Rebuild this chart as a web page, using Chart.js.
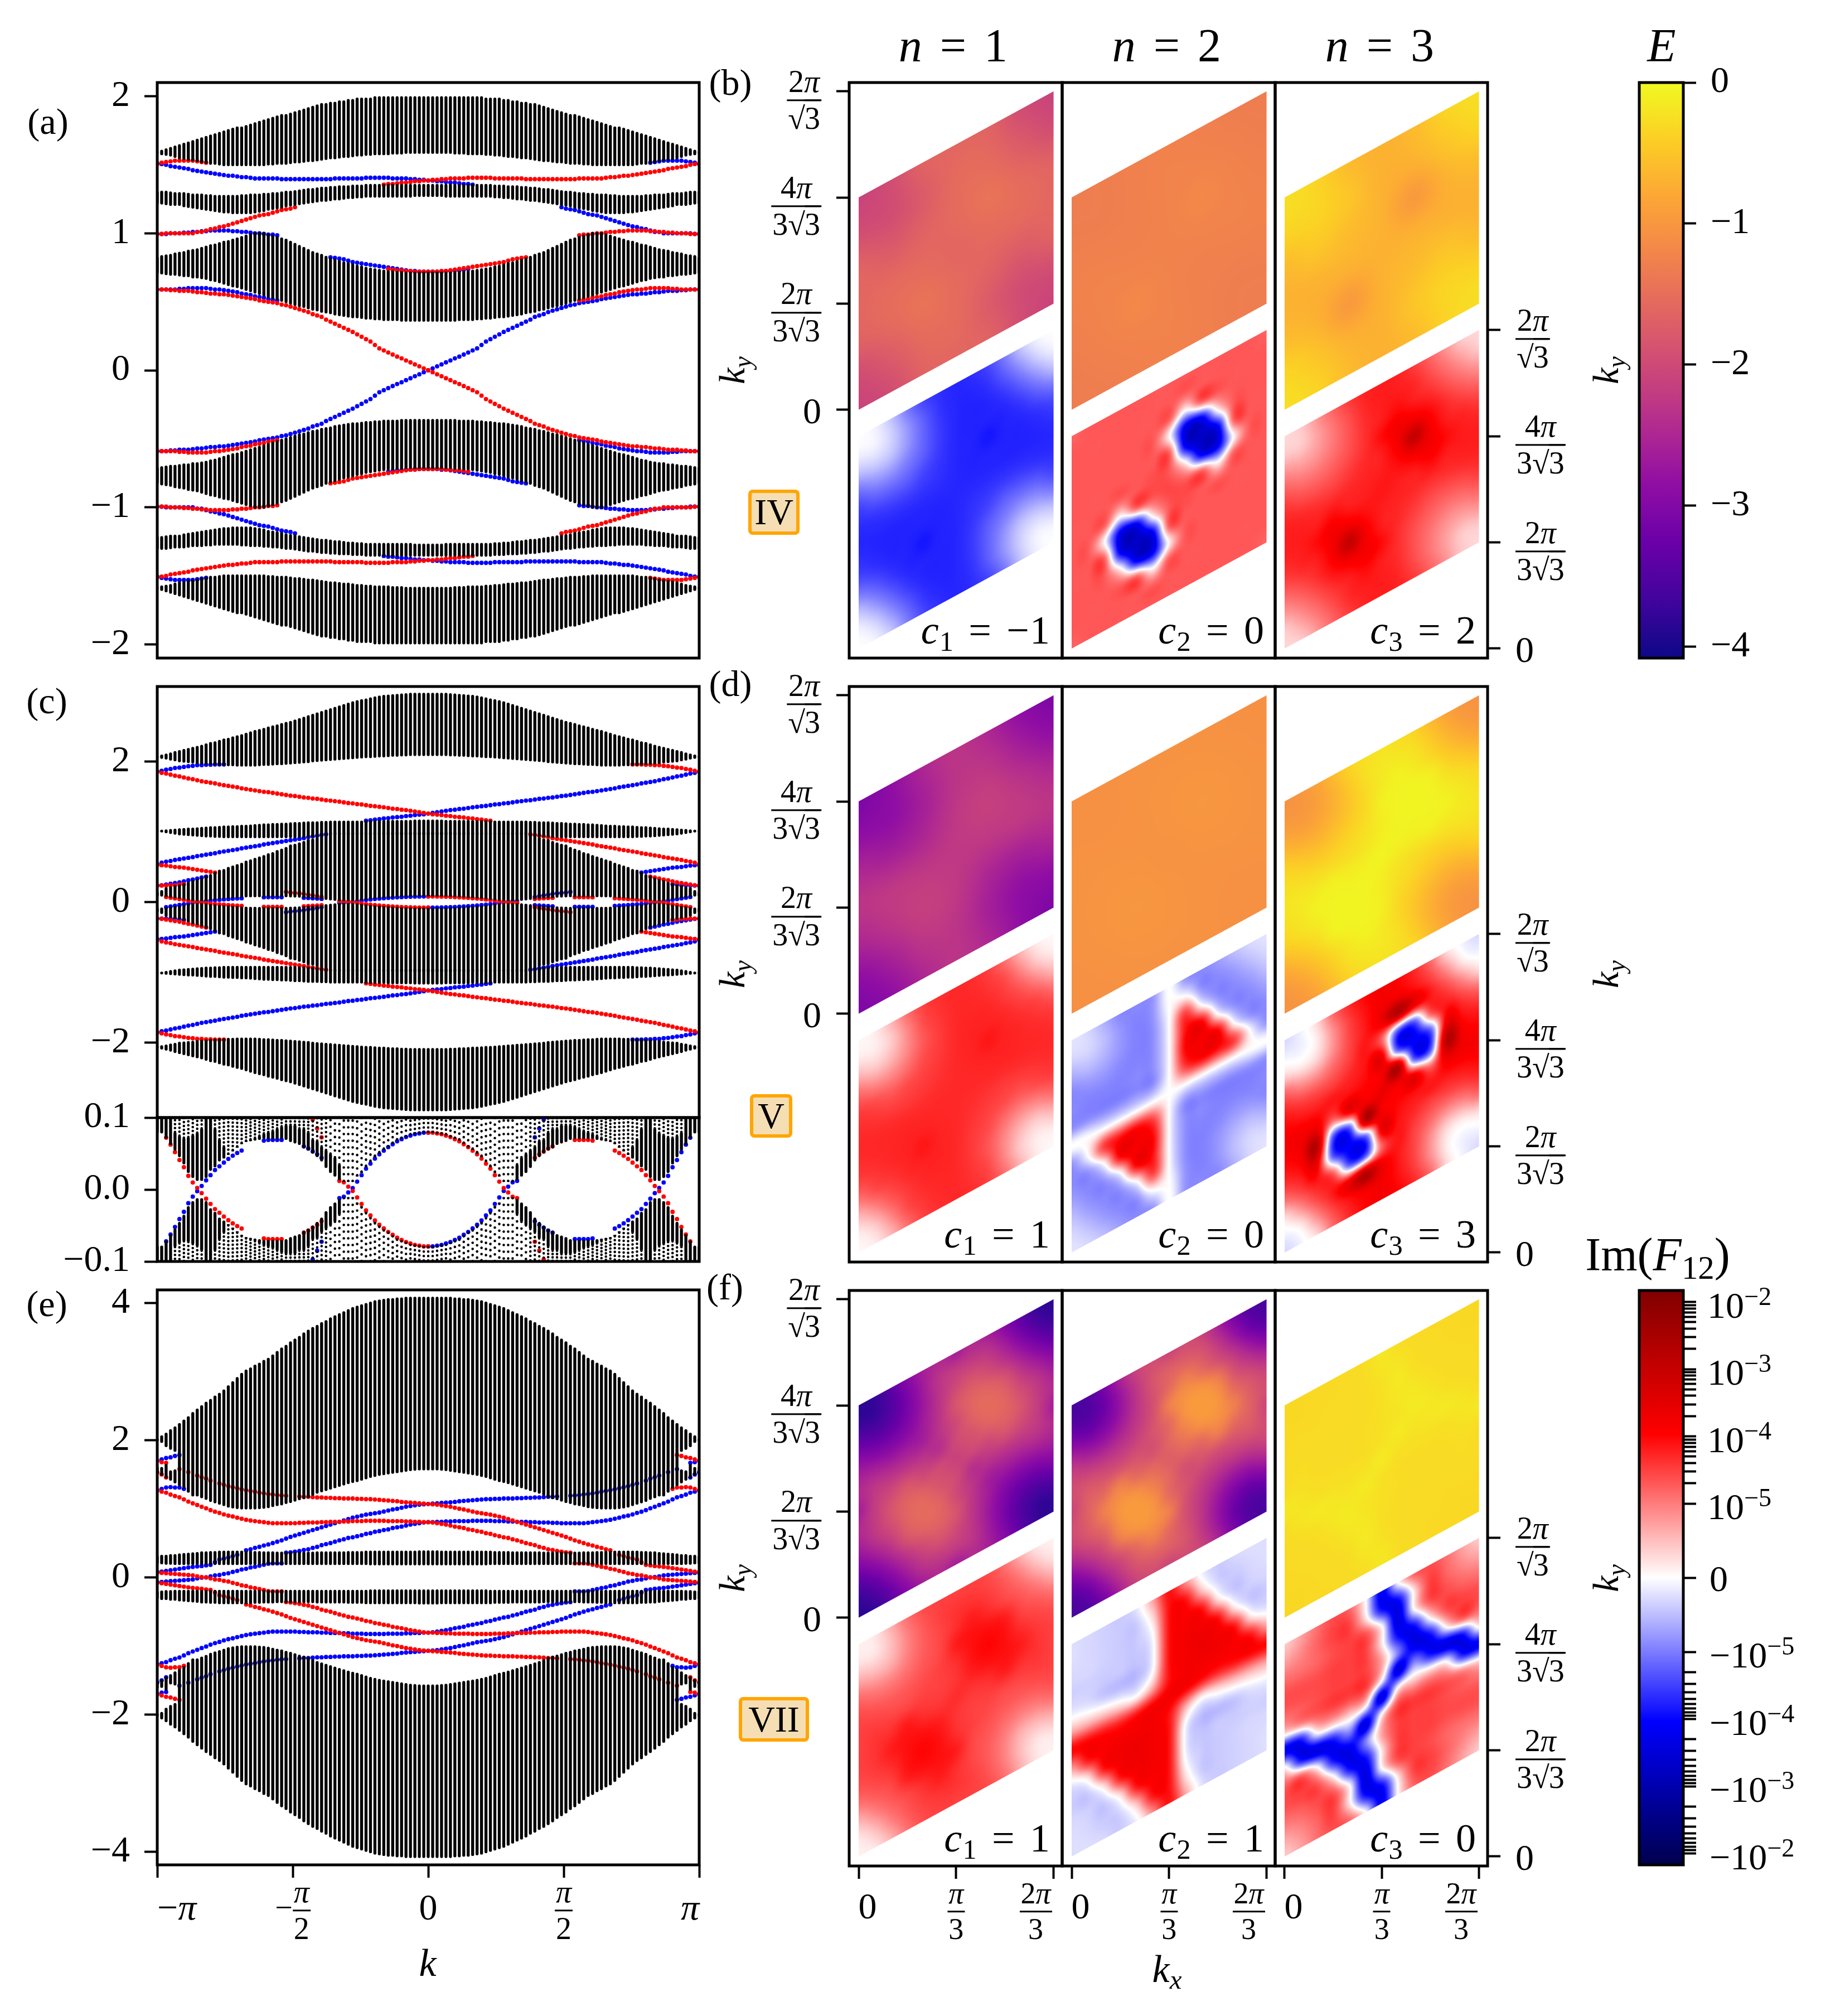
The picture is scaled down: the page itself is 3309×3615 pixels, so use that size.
<!DOCTYPE html>
<html><head><meta charset="utf-8">
<style>
html,body{margin:0;padding:0;background:#fff}
body{position:relative;width:3309px;height:3615px;overflow:hidden;font-family:"Liberation Serif",serif;color:#000}
canvas{position:absolute}
.t{position:absolute;white-space:nowrap;line-height:1}
.t sub{font-size:.7em;line-height:0;vertical-align:-.25em}
.t sup{font-size:.7em;line-height:0;vertical-align:.5em}
.w{word-spacing:.1em;letter-spacing:.015em}
.fr{display:inline-flex;flex-direction:column;align-items:center;vertical-align:middle}
.fr>span:first-child{padding:0 2px 5px;line-height:.95}
.fr>span:last-child{border-top:3.5px solid #000;padding:5px 2px 0;line-height:.95;align-self:stretch;text-align:center}
.rt{border-top:3px solid #000;margin-left:-1px}
.bd{position:absolute;box-sizing:border-box;background:#f5deb3;border:6px solid #ffa500;border-radius:8px;display:flex;align-items:center;justify-content:center;font-size:66px}
</style>
<script src="https://cdn.jsdelivr.net/npm/chart.js@4"></script>
</head><body>
<script>
// ---------- band edges (index 0..61 of half the k axis) ----------
const aU1=[1.60,1.61,1.62,1.63,1.64,1.65,1.66,1.67,1.68,1.69,1.70,1.71,1.72,1.73,1.74,1.75,1.76,1.77,1.78,1.78,1.79,1.80,1.81,1.82,1.83,1.84,1.85,1.86,1.87,1.87,1.88,1.89,1.90,1.91,1.92,1.93,1.94,1.95,1.95,1.96,1.96,1.97,1.97,1.98,1.98,1.99,1.99,1.99,1.99,2,2,2,2,2,2,2,2,2,2,2,2,2];
const aL1=[1.58,1.57,1.565,1.56,1.55,1.54,1.535,1.53,1.525,1.52,1.51,1.505,1.50,1.50,1.495,1.49,1.49,1.49,1.49,1.49,1.49,1.49,1.49,1.49,1.49,1.495,1.495,1.50,1.50,1.50,1.505,1.51,1.51,1.515,1.52,1.52,1.525,1.53,1.535,1.54,1.54,1.545,1.55,1.55,1.555,1.56,1.56,1.565,1.565,1.57,1.57,1.57,1.57,1.575,1.575,1.575,1.58,1.58,1.58,1.58,1.58,1.58];
const aU2=[1.31,1.31,1.31,1.305,1.30,1.30,1.30,1.295,1.29,1.29,1.29,1.285,1.285,1.28,1.28,1.28,1.28,1.28,1.28,1.285,1.285,1.29,1.29,1.29,1.295,1.295,1.30,1.30,1.305,1.31,1.31,1.315,1.32,1.325,1.33,1.33,1.335,1.34,1.34,1.345,1.345,1.35,1.35,1.35,1.355,1.355,1.355,1.36,1.36,1.36,1.36,1.36,1.36,1.36,1.36,1.36,1.36,1.36,1.36,1.36,1.36,1.36];
const aL2=[1.21,1.21,1.205,1.20,1.20,1.20,1.19,1.185,1.18,1.175,1.17,1.165,1.16,1.155,1.15,1.145,1.145,1.14,1.14,1.14,1.14,1.14,1.145,1.15,1.155,1.165,1.17,1.175,1.18,1.19,1.195,1.20,1.205,1.21,1.215,1.22,1.225,1.23,1.23,1.235,1.24,1.24,1.245,1.25,1.25,1.255,1.255,1.26,1.26,1.26,1.26,1.26,1.26,1.26,1.26,1.26,1.26,1.26,1.265,1.265,1.265,1.265];
const aU3=[.83,.84,.845,.85,.86,.865,.87,.88,.885,.89,.90,.91,.92,.925,.935,.945,.95,.96,.97,.98,.99,1,1.01,1.01,1.01,1,.99,.98,.97,.96,.945,.93,.915,.90,.885,.87,.86,.85,.835,.825,.815,.805,.795,.79,.78,.77,.765,.755,.75,.745,.74,.735,.73,.73,.725,.725,.72,.72,.72,.72,.72,.72];
const aL3=[.705,.70,.695,.69,.69,.685,.68,.68,.67,.67,.665,.66,.65,.645,.635,.625,.615,.605,.60,.59,.58,.57,.56,.55,.54,.53,.52,.51,.50,.49,.48,.47,.46,.455,.445,.435,.43,.42,.415,.41,.40,.395,.39,.385,.38,.38,.375,.37,.37,.365,.365,.36,.36,.36,.36,.355,.355,.355,.355,.355,.355,.355];

const cU1=[2.08,2.10,2.115,2.13,2.15,2.165,2.18,2.195,2.21,2.225,2.24,2.26,2.28,2.29,2.31,2.33,2.34,2.36,2.375,2.39,2.41,2.43,2.45,2.465,2.48,2.50,2.515,2.53,2.55,2.565,2.58,2.60,2.62,2.64,2.66,2.68,2.70,2.72,2.74,2.76,2.78,2.80,2.82,2.84,2.86,2.875,2.89,2.90,2.915,2.93,2.94,2.95,2.955,2.96,2.965,2.97,2.975,2.98,2.98,2.98,2.98,2.98];
const cL1=[2.05,2.04,2.03,2.015,2.005,1.99,1.985,1.98,1.975,1.965,1.96,1.955,1.95,1.945,1.94,1.94,1.935,1.935,1.93,1.93,1.93,1.93,1.93,1.935,1.94,1.94,1.945,1.95,1.95,1.955,1.96,1.965,1.97,1.975,1.98,1.99,1.995,2,2.005,2.01,2.015,2.02,2.025,2.03,2.035,2.04,2.045,2.05,2.05,2.055,2.06,2.06,2.065,2.07,2.07,2.075,2.075,2.08,2.08,2.08,2.08,2.08];
const cU2=[1.02,1.03,1.035,1.04,1.045,1.05,1.055,1.06,1.06,1.065,1.07,1.075,1.08,1.08,1.085,1.09,1.09,1.095,1.095,1.10,1.10,1.105,1.11,1.115,1.12,1.12,1.125,1.125,1.13,1.13,1.135,1.14,1.14,1.145,1.15,1.15,1.15,1.155,1.155,1.16,1.16,1.16,1.16,1.16,1.16,1.16,1.16,1.165,1.165,1.165,1.165,1.165,1.17,1.17,1.17,1.17,1.17,1.17,1.175,1.175,1.175,1.175];
const cL2=[1.0,.99,.98,.97,.96,.95,.945,.94,.935,.93,.925,.92,.92,.915,.915,.91,.91,.91,.91,.91,.91,.91,.91,.91,.91,.91,.91,.91,.91,.91,.91,.91,.915,.915,.92,.92,.925,.93,.94,.95,.95,.95,.95,.95,.95,.95,.95,.95,.95,.95,.95,.95,.95,.95,.95,.95,.95,.95,.95,.95,.95,.95];
const cU3=[.15,.17,.21,.225,.24,.25,.27,.29,.315,.33,.35,.38,.40,.43,.46,.47,.50,.52,.54,.56,.59,.607,.63,.65,.67,.695,.71,.74,.76,.785,.82,.83,.85,.87,.90,.905,.925,.94,.965,1,1,1,1,1,1,1,1,1,1,1,1,1,1,1,1,1,1,1,1,1,1,1];
const cGap=[.078,.078,.0705,.062,.054,.045,.035,.023,.016,.012,.012,.016,.026,.031,.039,.043,.048,.053,.058,.063,.066,.067,.068,.069,.07,.07,.07,.07,.07,.069,.066,.064,.062,.057,.054,.05,.045,.039,.03,.023,.018,.013,.011,.011,.011,.018,.023,.031,.039,.045,.05,.055,.059,.064,.068,.071,.073,.076,.077,.078,.079,.079];
const cSolid=[.1,.1,.1,.1,.08,.075,.072,.073,.076,.079,.085,.1,.1,.085,.07,.06,.05,.055,.06,.065,.068,.07,.072,.075,.078,.08,.082,.085,.088,.09,.09,.09,.085,.085,.08,.07,.068,.06,.055,.05,.045,.035,.012,.012,.012,.02,.025,.033,.04,.047,.052,.057,.06,.065,.07,.072,.074,.077,.078,.079,.08,.08];
const cDot=[7,7,7,7,7,7,7,7,7,7,7,7,7,7,7,7,7,7,7,7,6,6,6,6,6,6,6,6,6,6,6,6,6,6,6,8,8,8,8,12,12,12,12,12,12,12,12,11,11,11,11,11,11,10,10,10,10,8,8,8,8,8];

const eU1=[2.03,2.07,2.11,2.16,2.20,2.25,2.30,2.35,2.41,2.46,2.51,2.56,2.60,2.65,2.69,2.74,2.80,2.86,2.92,2.98,3.03,3.06,3.10,3.13,3.17,3.20,3.25,3.30,3.35,3.39,3.44,3.48,3.52,3.57,3.61,3.65,3.68,3.72,3.75,3.79,3.82,3.85,3.88,3.91,3.94,3.96,3.98,4.00,4.02,4.04,4.05,4.06,4.07,4.07,4.08,4.08,4.09,4.09,4.09,4.09,4.09,4.09];
const eL1=[1.98,1.96,1.90,1.86,1.83,1.33,1.29,1.235,1.18,1.18,1.154,1.13,1.10,1.08,1.06,1.04,1.018,1.005,.996,.99,.99,.99,.99,.995,1.0,1.01,1.026,1.04,1.05,1.07,1.085,1.105,1.125,1.14,1.154,1.19,1.22,1.24,1.26,1.28,1.30,1.32,1.34,1.36,1.376,1.39,1.41,1.43,1.45,1.465,1.48,1.49,1.50,1.51,1.52,1.53,1.54,1.55,1.555,1.56,1.56,1.56];
const ePieceLo=[1.50,1.48,1.44,1.41,1.37];
const ePieceHi=[1.62,1.61,1.655,1.56,1.575];
const eU4=[.32,.33,.33,.34,.34,.35,.355,.36,.365,.37,.38,.38,.385,.385,.39,.39,.39,.39,.39,.39,.39,.39,.385,.385,.38,.38,.38,.375,.375,.375,.375,.375,.375,.375,.375,.375,.38,.38,.38,.38,.38,.38,.38,.385,.385,.385,.385,.39,.39,.39,.39,.39,.39,.39,.39,.39,.39,.39,.39,.395,.395,.395];
const eL4=[.19,.19,.185,.185,.18,.18,.18,.18,.18,.18,.18,.18,.18,.18,.18,.18,.18,.18,.18,.18,.18,.18,.18,.18,.18,.18,.18,.18,.18,.18,.18,.18,.18,.18,.18,.18,.18,.18,.18,.18,.18,.18,.18,.18,.18,.18,.18,.18,.175,.175,.175,.175,.175,.175,.175,.175,.175,.175,.175,.175,.175,.175];

// ---------- edge states: [first k index, energies] ----------
const aEdge=[
[0,[1.505,1.515,1.52,1.525,1.53,1.53,1.53,1.53,1.53,1.525,1.52,1.515]],
[51,[1.355,1.36,1.36,1.365,1.37,1.37,1.375,1.38,1.38,1.385,1.385,1.39,1.39,1.395,1.395,1.40,1.40,1.40,1.40,1.405,1.405,1.405,1.405,1.405,1.405,1.40,1.40,1.40,1.40,1.40,1.40,1.40,1.395,1.395,1.395,1.395,1.395,1.395,1.395,1.395,1.395,1.395,1.395,1.395,1.40,1.40,1.40,1.40,1.40,1.40,1.405,1.41,1.41,1.415,1.42,1.42,1.425,1.43,1.435,1.44,1.445,1.45,1.455,1.46,1.47,1.475,1.48,1.485,1.49,1.50,1.505,1.51]],
[0,[.995,.995,1,1,1,1,1,1,1,1.01,1.01,1.02,1.03,1.035,1.045,1.05,1.06,1.07,1.08,1.09,1.10,1.11,1.12,1.13,1.135,1.14,1.15,1.16,1.17,1.175,1.18,1.19]],
[95,[.985,.99,.99,.995,1,1,1.005,1.01,1.01,1.015,1.015,1.02,1.02,1.02,1.02,1.02,1.015,1.015,1.01,1.01,1.005,1.005,1,1,1,.995,.995,.995]],
[52,[.74,.735,.73,.73,.725,.725,.72,.72,.72,.72,.72,.72,.725,.725,.73,.735,.74,.745,.75,.755,.76,.765,.77,.775,.78,.785,.79,.80,.81,.815,.82,.825]],
[0,[.59,.59,.59,.585,.585,.58,.58,.58,.575,.57,.57,.565,.56,.56,.555,.555,.55,.545,.54,.535,.53,.525,.52,.51,.505,.50,.495,.49,.48,.475,.465,.455,.445,.435,.425,.41,.40,.39,.37,.355,.34,.325,.31,.295,.28,.262,.245,.227,.21,.185,.16,.145,.13,.115,.10,.087,.072,.058,.043,.029,.014,0]],
[95,[.51,.515,.52,.53,.535,.54,.55,.555,.56,.57,.575,.58,.585,.59,.59,.595,.60,.60,.60,.60,.60,.595,.595,.59,.59,.59,.59,.59]]
];
const cEdge=[
[0,[1.857,1.84,1.83,1.815,1.80,1.79,1.775,1.76,1.75,1.735,1.72,1.71,1.70,1.69,1.675,1.665,1.655,1.645,1.635,1.62,1.61,1.60,1.59,1.58,1.57,1.565,1.555,1.545,1.535,1.525,1.516,1.51,1.50,1.49,1.485,1.475,1.47,1.46,1.45,1.445,1.437,1.43,1.42,1.41,1.405,1.395,1.39,1.38,1.37,1.365,1.357,1.35,1.34,1.33,1.325,1.315,1.31,1.30,1.29,1.28,1.27,1.26,1.25,1.245,1.24,1.23,1.225,1.215,1.21,1.205,1.195,1.19,1.18,1.175,1.165,1.158]],
[107,[1.96,1.96,1.96,1.955,1.955,1.95,1.95,1.94,1.935,1.925,1.915,1.91,1.895,1.885,1.87,1.857]],
[84,[.965,.955,.945,.935,.925,.91,.90,.89,.88,.87,.86,.85,.84,.83,.82,.805,.795,.785,.775,.765,.75,.74,.73,.72,.71,.695,.685,.675,.665,.655,.64,.63,.62,.61,.60,.585,.575,.56,.54]],
[0,[.527,.525,.52,.51,.50,.495,.49,.48,.47,.46,.45,.44,.43,.42]],
[111,[.363,.35,.335,.32,.31,.295,.28,.27,.26,.25,.24,.235]],
[0,[.235,.235,.235,.24,.24,.25,.255]],
[2,[.072,.0625,.052,.041,.031,.019,.0098,.0023,-.005,-.0128,-.02,-.0272,-.0323,-.0375,-.0426,-.047,-.0508,-.0542,null,null,null,null,-.068,-.069,-.069,-.069,-.069,null,null,null,null,-.06,-.057,-.053,-.049,-.044]],
[29,[.145,.135,.13,.125,.115,.105,.097,.085,.0725,null,null,null,.012,.010,.004,-.002,-.011,-.02,-.029,-.036,-.043,-.049,-.054,-.059,-.063,-.067,-.07,-.073,-.075,-.077,-.078,-.079,-.079]]
];
const eEdge=[
[0,[1.267,1.25,1.235,1.207,1.185,1.167,1.137,1.105,1.08,1.055,1.03,1.007,.98,.958,.94,.918,.90,.888,.87,.855,.84,.829,.82,.812,.805,.796,.79,.79,.79,.79,.79,.79,.795,.795,.80,.80,.80,.805,.805,.81,.81,.81,.815,.815,.82,.82,.82,.825,.825,.825,.825,.825,.82,.82,.82,.82,.815,.815,.81,.81,.805,.805]],
[62,[.80,.79,.78,.77,.755,.74,.73,.72,.70,.69,.675,.665,.645,.635,.615,.60,.585,.575,.555,.54,.52,.50,.485,.47,.445,.43,.41,.40,.385,.375,.365,.36,.205,.205,.205,.20,.185,.17,.155,.145,.125,.115,.095,.08,.06,.05,.035,.03,.015,0,-.005,-.015,-.03,-.035,-.04,-.045,-.05,-.055,-.06,-.066,-.07]],
[5,[1.578,null,1.535,null,1.485,1.46,1.44,1.41,null,1.37,1.35,1.33,1.315,1.30,1.285,1.27,1.26,1.25,1.235,1.225,1.215,1.21,1.20,1.195,1.19,null,null,1.18,1.175,1.175,1.17,1.165,1.165,1.16,1.16,1.155,1.155,1.15,1.15,1.15,1.145,1.145,1.14,1.14,1.135,1.13,1.125,1.12,1.115,1.11,1.10,1.095,1.09,1.085,1.08,1.075,1.07]],
[62,[1.065,1.06,1.05,1.04,1.03,1.015,1.0,.99,.975,.96,.945,.935,.925,.915,.90,.885,.87,.85,.83,.81,.79,.77,.75,.73,.71,.69,.67,.65,.63,.61,.59,.565,.54,.52,.50,.48,.465,.445,.43,.41,.395,null,.33,.31,.29,.275,.26,.22,.183,.175,.165,.16,.153,.145,.135,.125,.115,.105,.095,.085,.08]],
[0,[1.70,1.68,1.67]],
[0,[1.53,1.50,1.456]],
[117,[1.785,1.77,1.75,1.74,1.72,1.70]],
[116,[1.29,1.31,1.31,1.316,1.31,1.29,1.27]]
];

// ---------- Brillouin-zone maps: half of each grid, the other half is its point reflection ----------
const E_IV_1=[[-2.1,-1.95,-1.65,-1.6,-1.65,-1.95,-2.1],[-1.95,-1.75,-1.55,-1.55,-1.75,-1.95,-1.95],[-1.65,-1.55,-1.45,-1.55,-1.65,-1.75,-1.65],[-1.6,-1.55,-1.55,-1.6,-1.55,-1.55,-1.6]];
const E_IV_2=[[-1.32,-1.3,-1.27,-1.25,-1.27,-1.3,-1.32],[-1.3,-1.27,-1.24,-1.24,-1.27,-1.3,-1.3],[-1.27,-1.24,-1.18,-1.24,-1.27,-1.27,-1.27],[-1.25,-1.24,-1.24,-1.25,-1.24,-1.24,-1.25]];
const E_IV_3=[[-.25,-.35,-.6,-.7,-.6,-.35,-.25],[-.35,-.5,-.7,-.7,-.5,-.35,-.35],[-.6,-.7,-.95,-.7,-.6,-.5,-.6],[-.7,-.7,-.7,-.7,-.7,-.7,-.7]];
const E_V_1=[[-3.05,-2.85,-2.5,-2.3,-2.5,-2.85,-3.05],[-2.85,-2.6,-2.3,-2.3,-2.6,-2.85,-2.85],[-2.5,-2.3,-2.15,-2.25,-2.5,-2.6,-2.5],[-2.3,-2.25,-2.25,-2.25,-2.25,-2.25,-2.3]];
const E_V_2=[[-1.08,-1.07,-1.05,-1.05,-1.05,-1.07,-1.08],[-1.07,-1.05,-1.03,-1.03,-1.05,-1.07,-1.07],[-1.05,-1.03,-1,-1.03,-1.05,-1.05,-1.05],[-1.05,-1.03,-1.03,-1.05,-1.03,-1.03,-1.05]];
const E_V_3=[[-1.05,-1,-.85,-.6,-.35,-.25,-.2,-.25,-.35,-.6,-.85,-1,-1.05],[-1,-.9,-.7,-.45,-.25,-.17,-.17,-.25,-.45,-.7,-.9,-1,-1],[-.85,-.7,-.5,-.3,-.15,-.08,-.15,-.3,-.5,-.7,-.85,-.9,-.85],[-.6,-.45,-.3,-.1,-.06,-.06,-.1,-.3,-.45,-.6,-.7,-.7,-.6],[-.35,-.25,-.15,-.06,-.05,-.06,-.12,-.25,-.35,-.45,-.5,-.45,-.35],[-.25,-.17,-.08,-.06,-.06,-.06,-.1,-.2,-.27,-.3,-.3,-.27,-.25],[-.2,-.17,-.15,-.1,-.12,-.1,-.06,-.1,-.12,-.1,-.15,-.17,-.2]];
const E_VII_1=[[-3.85,-3.75,-3.4,-2.95,-2.6,-2.45,-2.6,-2.45,-2.6,-2.95,-3.4,-3.75,-3.85],[-3.75,-3.5,-3.1,-2.65,-2.3,-2.2,-2.2,-2.3,-2.65,-3.1,-3.5,-3.75,-3.75],[-3.4,-3.1,-2.7,-2.3,-2,-1.85,-2,-2.3,-2.7,-3.1,-3.4,-3.5,-3.4],[-2.95,-2.65,-2.3,-1.85,-1.65,-1.65,-1.85,-2.3,-2.65,-2.95,-3.1,-3.1,-2.95],[-2.6,-2.3,-2,-1.65,-1.55,-1.65,-2,-2.3,-2.6,-2.65,-2.7,-2.65,-2.6],[-2.45,-2.2,-1.85,-1.65,-1.65,-1.85,-2,-2.35,-2.3,-2.3,-2.3,-2.3,-2.45],[-2.6,-2.2,-2,-1.85,-2,-2,-2.1,-2,-2,-1.85,-2,-2.2,-2.6]];
const E_VII_2=[[-3.6,-3.5,-3.1,-2.55,-2.1,-1.95,-2.05,-1.95,-2.1,-2.55,-3.1,-3.5,-3.6],[-3.5,-3.25,-2.75,-2.25,-1.85,-1.7,-1.7,-1.85,-2.25,-2.75,-3.25,-3.5,-3.5],[-3.1,-2.75,-2.3,-1.9,-1.55,-1.3,-1.55,-1.9,-2.3,-2.75,-3.1,-3.25,-3.1],[-2.55,-2.25,-1.9,-1.3,-1.05,-1.05,-1.3,-1.9,-2.25,-2.55,-2.75,-2.75,-2.55],[-2.1,-1.85,-1.55,-1.05,-.95,-1.05,-1.55,-1.85,-2.1,-2.25,-2.3,-2.25,-2.1],[-1.95,-1.7,-1.3,-1.05,-1.05,-1.3,-1.6,-1.9,-1.85,-1.9,-1.9,-1.85,-1.95],[-2.05,-1.7,-1.55,-1.3,-1.55,-1.6,-1.7,-1.6,-1.55,-1.3,-1.55,-1.7,-2.05]];
const E_VII_3=[[-.32,-.31,-.3,-.3,-.29,-.26,-.17,-.26,-.29,-.3,-.3,-.31,-.32],[-.31,-.31,-.3,-.29,-.27,-.2,-.2,-.27,-.29,-.3,-.3,-.31,-.31],[-.3,-.3,-.29,-.28,-.24,-.15,-.24,-.28,-.29,-.29,-.3,-.3,-.3],[-.3,-.29,-.28,-.24,-.17,-.17,-.24,-.28,-.29,-.29,-.29,-.29,-.3],[-.29,-.27,-.24,-.17,-.14,-.2,-.24,-.27,-.28,-.28,-.29,-.27,-.29],[-.26,-.2,-.15,-.17,-.2,-.15,-.23,-.27,-.28,-.28,-.27,-.25,-.26],[-.17,-.2,-.24,-.24,-.24,-.23,-.15,-.23,-.24,-.24,-.24,-.2,-.17]];
// Im(F12) in decades: 0 = 0, +-1 = +-1e-5, +-2 = +-1e-4, +-3 = +-1e-3, +-4 = +-1e-2
const F_IV_1=[[0,-.1,-.45,-1,-1.45,-1.65,-1.72,-1.65,-1.45,-1,-.45,-.1,0],[-.1,-.35,-.8,-1.25,-1.6,-1.72,-1.72,-1.6,-1.25,-.8,-.35,-.1,-.1],[-.45,-.8,-1.2,-1.55,-1.72,-1.75,-1.72,-1.55,-1.2,-.8,-.45,-.35,-.45],[-1,-1.25,-1.55,-1.72,-1.75,-1.75,-1.72,-1.55,-1.25,-1,-.8,-.8,-1],[-1.45,-1.6,-1.72,-1.75,-1.85,-1.75,-1.72,-1.6,-1.45,-1.25,-1.2,-1.25,-1.45],[-1.65,-1.72,-1.75,-1.75,-1.75,-1.75,-1.72,-1.65,-1.6,-1.55,-1.55,-1.6,-1.65],[-1.72,-1.72,-1.72,-1.72,-1.72,-1.72,-1.72,-1.72,-1.72,-1.72,-1.72,-1.72,-1.72]];
const F_IV_2=[[1.2,1.3,1.3,1.3,1.3,1.3,1.3,1.3,1.3,1.3,1.3,1.3,1.2],[1.3,1.3,1.3,1.3,1.3,1.3,1.3,1.3,1.3,1.3,1.3,1.3,1.3],[1.3,1.3,1.3,1.3,1.3,.1,1.3,1.3,1.3,1.3,1.3,1.3,1.3],[1.3,1.3,1.3,.1,-2.2,-2.2,.1,1.3,1.3,1.3,1.3,1.3,1.3],[1.3,1.3,1.3,-2.2,-2.7,-2.2,1.3,1.3,1.3,1.3,1.3,1.3,1.3],[1.3,1.3,.1,-2.2,-2.2,.1,1.3,1.4,1.3,1.3,1.3,1.3,1.3],[1.3,1.3,1.3,.1,1.3,1.3,1.45,1.3,1.3,.1,1.3,1.3,1.3]];
const F_IV_3=[[.3,.4,.8,1.2,1.55,1.75,1.8,1.75,1.55,1.2,.8,.4,.3],[.4,.7,1.05,1.4,1.7,1.8,1.8,1.7,1.4,1.05,.7,.4,.4],[.8,1.05,1.35,1.65,1.8,1.95,1.8,1.65,1.35,1.05,.8,.7,.8],[1.2,1.4,1.65,1.95,2.2,2.2,1.95,1.65,1.4,1.2,1.05,1.05,1.2],[1.55,1.7,1.8,2.2,3,2.2,1.8,1.7,1.55,1.4,1.35,1.4,1.55],[1.75,1.8,1.95,2.2,2.2,1.95,1.8,1.75,1.7,1.65,1.65,1.7,1.75],[1.8,1.8,1.8,1.95,1.8,1.8,1.85,1.8,1.8,1.95,1.8,1.8,1.8]];
const F_V_1=[[.05,.15,.55,1.1,1.5,1.65,1.7,1.65,1.5,1.1,.55,.15,.05],[.15,.4,.9,1.4,1.6,1.7,1.7,1.6,1.4,.9,.4,.15,.15],[.55,.9,1.3,1.55,1.7,1.72,1.7,1.55,1.3,.9,.55,.4,.55],[1.1,1.4,1.55,1.7,1.75,1.75,1.7,1.55,1.4,1.1,.9,.9,1.1],[1.5,1.6,1.7,1.75,1.85,1.75,1.7,1.6,1.5,1.4,1.3,1.4,1.5],[1.65,1.7,1.72,1.75,1.75,1.72,1.7,1.65,1.6,1.55,1.55,1.6,1.65],[1.7,1.7,1.7,1.7,1.7,1.7,1.7,1.7,1.7,1.7,1.7,1.7,1.7]];
const F_V_2=[[-.2,-.3,-.5,-.75,-.9,-.8,0,-.8,-.9,-.9,-.6,-.3,-.2],[-.3,-.5,-.75,-.9,-.85,0,0,-.8,-.95,-.8,-.5,-.3,-.3],[-.5,-.75,-.9,-.85,0,1.5,0,-.85,-.95,-.8,-.6,-.5,-.6],[-.75,-.9,-.85,0,2.1,1.9,0,-.85,-.95,-.9,-.8,-.8,-.9],[-.9,-.85,0,2.1,2.15,2,0,-.85,-.9,-.95,-.95,-.95,-.9],[-.8,0,1.5,1.9,2,1.5,0,-.85,-.85,-.9,-.9,-.85,-.85],[0,0,0,0,0,0,0,0,0,0,0,0,0]];
const F_V_3=[[-.3,-.1,.3,1.15,1.7,2,2.2,2,1.7,1.15,.3,-.1,-.3],[-.1,.15,.85,1.5,1.9,2.2,2.2,1.9,1.5,.85,.15,-.1,-.1],[.3,.85,1.45,1.85,2.3,3.2,2.3,1.85,1.45,.85,.3,.15,.3],[1.15,1.5,1.85,1.2,-1.4,-1.4,1.2,1.85,1.5,1.15,.85,.85,1.15],[1.7,1.9,2.3,-1.4,-2.1,-1.4,2.3,1.9,1.7,1.5,1.45,1.5,1.7],[2,2.2,3.2,-1.4,-1.4,3.2,2.2,2,1.9,1.85,1.85,1.9,2],[2.2,2.2,2.3,1.2,2.3,2.2,2.3,2.2,2.3,1.2,2.3,2.2,2.2]];
const F_VII_1=[[.1,.2,.6,1.1,1.4,1.5,1.5,1.5,1.4,1.1,.6,.2,.1],[.2,.5,.95,1.3,1.5,1.6,1.6,1.5,1.3,.95,.5,.2,.2],[.6,.95,1.25,1.45,1.65,1.8,1.65,1.45,1.25,.95,.6,.5,.6],[1.1,1.3,1.45,1.8,1.9,1.9,1.8,1.45,1.3,1.1,.95,.95,1.1],[1.4,1.5,1.65,1.9,2,1.9,1.65,1.5,1.4,1.3,1.25,1.3,1.4],[1.5,1.6,1.8,1.9,1.9,1.8,1.6,1.5,1.5,1.45,1.45,1.5,1.5],[1.5,1.6,1.65,1.8,1.65,1.6,1.65,1.6,1.65,1.8,1.65,1.6,1.5]];
const F_VII_2=[[-.25,-.25,-.3,-.4,-.1,.9,1.9,.7,-.2,-.4,-.35,-.3,-.25],[-.25,-.3,-.4,-.3,.5,1.9,1.9,.3,-.4,-.4,-.35,-.3,-.25],[-.3,-.35,-.4,.3,1.9,2.1,1.9,0,-.4,-.4,-.35,-.3,-.3],[-.4,-.4,.3,1.9,2.2,2.2,1.9,-.1,-.45,-.4,-.4,-.35,-.35],[-.2,.3,1.9,2.2,2.3,2.2,1.9,0,-.5,-.5,-.4,-.2,-.1],[.8,1.9,2.1,2.2,2.2,2.2,1.9,.7,.1,.3,.5,.6,.7],[2,2,1.9,1.8,1.9,2.1,2.2,2.1,1.9,1.8,1.9,2,2]];
const F_VII_3=[[.4,.7,1.1,1.4,1.2,0,-2.2,0,1.2,1.4,1.1,.7,.4],[.7,.9,1.2,1.5,.2,-2,-2,.2,1.5,1.5,1.2,.9,.7],[1.1,1.2,1.4,1.4,0,-2.4,0,1.4,1.5,1.4,1.2,1.1,1.1],[1.4,1.5,1.4,.1,-2,-2,.2,1.5,1.5,1.5,1.4,1.4,1.4],[1.2,1.3,.1,-2,-2.3,-1,.7,1.5,1.5,1.5,1.4,1.3,1.2],[.1,-2,-2.4,-2,-1,-2.4,.1,1.5,1.5,1.5,1.3,.9,.4],[-2.2,-2,0,.4,.4,.1,-2.4,.1,.4,.4,0,-2,-2.2]];

// ---------- labels ----------
const bandTicksA=[-2,-1,0,1,2], bandTicksC=[-2,0,2], bandTicksInset=[-.1,0,.1], bandTicksE=[-4,-2,0,2,4];
const energyTicks=[-4,-3,-2,-1,0];
const decadeLabels=["10<sup>−2</sup>","10<sup>−3</sup>","10<sup>−4</sup>","10<sup>−5</sup>","0","−10<sup>−5</sup>","−10<sup>−4</sup>","−10<sup>−3</sup>","−10<sup>−2</sup>"];
const decadeValues=[4,3,2,1,0,-1,-2,-3,-4];
const nTitles=["1","2","3"];
const chernIV=["−1","0","2"], chernV=["1","0","3"], chernVII=["1","1","0"];

// ---------- helpers ----------
const PI=Math.PI, H=2*PI/(3*Math.sqrt(3)), X=2*PI/3, K=i=>-PI+i*2*PI/122;
const M=185, FONT='"Liberation Serif"';
const frame={id:'frame',afterDraw(c){const a=c.chartArea,x=c.ctx;x.save();x.lineWidth=5;x.strokeStyle='#000';x.strokeRect(a.left,a.top,a.right-a.left,a.bottom-a.top);x.restore();}};
function mk(b,cfg,extra=[]){
  const cv=document.createElement('canvas');
  cv.width=b.w+2*M;cv.height=b.h+2*M;cv.style.left=(b.x-M)+'px';cv.style.top=(b.y-M)+'px';
  document.body.appendChild(cv);
  cfg.options=Object.assign({responsive:false,maintainAspectRatio:false,animation:false,devicePixelRatio:1,events:[],
    layout:{padding:M},plugins:{legend:{display:false},tooltip:{enabled:false}}},cfg.options);
  cfg.plugins=[...extra,frame];
  const ch=new Chart(cv,cfg);
  ch.px=v=>b.x-M+ch.scales.x.getPixelForValue(v);
  ch.py=(id,v)=>b.y-M+ch.scales[id].getPixelForValue(v);
  return ch;
}
function axis(pos,min,max,vals,fmt,show=true){
  const horiz=pos==='bottom';
  return {type:'linear',position:pos,min,max,display:show,offset:false,
    grid:{display:true,drawOnChartArea:false,drawTicks:true,tickLength:23,tickWidth:4,tickColor:'#000',offset:false},
    border:{display:false},
    ticks:{display:!!fmt,autoSkip:false,maxRotation:0,minRotation:0,padding:26,color:'#000',font:{family:FONT,size:66},callback:fmt||(()=>'')},
    afterBuildTicks:s=>{s.ticks=vals.map(value=>({value}));},
    afterFit:s=>{if(horiz)s.height=0;else s.width=0;s._computeLabelArea=()=>undefined;}};
}
const minus=v=>String(v).replace('-','−');
const BAR=5.3;
function bars(pairs){ // pairs: [upper,lower]; drawn at +E and -E, +k and -k
  const d=[];
  for(const [u,l] of pairs){u.forEach((hi,i)=>{const lo=l[i];
    for(const j of (i===61?[61]:[i,122-i])){d.push({x:K(j),y:[lo,hi]});d.push({x:K(j),y:[-hi,-lo]});}
  });}
  return {type:'bar',data:d,backgroundColor:'#000',barThickness:BAR,grouped:false,borderRadius:2.6,borderSkipped:false,inflateAmount:0,order:1};
}
function edges(list){
  const red=[],blue=[];
  for(const [s,vals] of list)vals.forEach((v,j)=>{if(v===null)return;const i=s+j;
    red.push({x:K(i),y:v},{x:K(122-i),y:-v});blue.push({x:K(i),y:-v},{x:K(122-i),y:v});});
  const dot=(data,color,order)=>({type:'scatter',data,backgroundColor:color,borderWidth:0,pointRadius:3.9,order});
  return [dot(blue,'#0000ff',3),dot(red,'#ff0000',2)];
}
function bandChart(b,pairs,list,ymin,ymax,ticks,fmt,xopt){
  return mk(b,{type:'bar',data:{datasets:[bars(pairs),...edges(list)]},options:{scales:{
    x:xopt||axis('bottom',-PI,PI,[],null,false),y:axis('left',ymin,ymax,ticks,fmt)}}});
}
// ---------- colour maps ----------
const plasmaStops=[[13,8,135],[65,4,157],[106,0,168],[143,13,164],[177,42,144],[204,71,120],[225,100,98],[242,132,75],[252,166,54],[252,206,37],[240,249,33]];
const seismicStops=[[0,0,77],[0,0,255],[255,255,255],[255,0,0],[128,0,0]];
const ramp=(st,t)=>{t=Math.min(1,Math.max(0,t))*(st.length-1);const i=Math.min(st.length-2,Math.floor(t)),f=t-i;return st[i].map((c,n)=>c+(st[i+1][n]-c)*f);};
const EMIN=-4.08;
const zOf=q=>{const a=Math.abs(q),z=a<=1?133*a:133+120.5*(a-1);return q<0?-z:z;}; // pixels from the 0 of the colour bar
const ZMAX=515;
const colE=v=>ramp(plasmaStops,(v-EMIN)/-EMIN);
const colF=q=>ramp(seismicStops,(zOf(q)/ZMAX+1)/2);
const full=r=>[...r,...r.slice(0,-1).reverse().map(x=>[...x].reverse())];
// ---------- heat rendering ----------
function cr(a,b,c,d,t){return .5*(2*b+(c-a)*t+(2*a-5*b+4*c-d)*t*t+(3*b-a-3*c+d)*t*t*t);}
function sample(g,u,v){
  const n=g.length-1,m=g[0].length-1,fy=v*n,fx=u*m;
  const j=Math.min(n-1,Math.floor(fy)),i=Math.min(m-1,Math.floor(fx)),ty=fy-j,tx=fx-i;
  const row=k=>{const r=g[Math.max(0,Math.min(n,k))];return cr(r[Math.max(0,i-1)],r[i],r[i+1],r[Math.min(m,i+2)],tx);};
  return cr(row(j-1),row(j),row(j+1),row(j+2),ty);
}
const heat={id:'heat',beforeDatasetsDraw(c){
  c.data.datasets.forEach(ds=>{
    const g=ds.field,W=350,Ht=381,o=document.createElement('canvas');o.width=W;o.height=Ht;
    const ox=o.getContext('2d'),im=ox.createImageData(W,Ht),f=ds.colour;
    for(let py=0;py<Ht;py++)for(let px=0;px<W;px++){
      const col=f(sample(g,(px+.5)/W,1-(py+.5)/Ht)),p=4*(py*W+px);
      im.data[p]=col[0];im.data[p+1]=col[1];im.data[p+2]=col[2];im.data[p+3]=255;}
    ox.putImageData(im,0,0);
    const xs=c.scales.x,ys=c.scales[ds.yAxisID],x0=xs.getPixelForValue(0),ux=xs.getPixelForValue(X)-x0,
      y0=ys.getPixelForValue(0),uy=ys.getPixelForValue(H)-y0,vy=ys.getPixelForValue(2*H)-y0,ctx=c.ctx;
    ctx.save();ctx.imageSmoothingEnabled=true;ctx.transform(ux/W,uy/W,0,-vy/Ht,x0,y0+vy);ctx.drawImage(o,0,0);ctx.restore();
  });
}};
function fieldSet(rows,yAxisID,colour){
  const g=full(rows),data=[],n=g.length-1,m=g[0].length-1;
  g.forEach((r,j)=>r.forEach((val,i)=>{const u=i/m,v=j/n;data.push({x:u*X,y:u*H+2*v*H,v:val});}));
  return {type:'scatter',data,field:g,colour,yAxisID,pointRadius:0,borderWidth:0};
}
// ---------- html text ----------
function txt(html,x,y,size,ax=.5,extra='',cls=''){const d=document.createElement('div');d.className='t '+cls;d.innerHTML=html;
  d.style.cssText=`left:${x}px;top:${y}px;font-size:${size}px;transform:translate(${-ax*100}%,-50%) ${extra}`;document.body.appendChild(d);return d;}
const fr=(n,d)=>`<span class="fr"><span>${n}</span><span>${d}</span></span>`;
const PIi='<i>π</i>', R3='√<span class="rt">3</span>';
const fA=fr('2'+PIi,R3), fB=fr('4'+PIi,'3'+R3), fC=fr('2'+PIi,'3'+R3);
const yLabels=[['0',0],[fC,H],[fB,2*H],[fA,3*H]];

// ---------- band panels ----------
const boxA={x:282,y:148,w:972,h:1032}, boxC={x:282,y:1231,w:972,h:773}, boxI={x:282,y:2004,w:972,h:258}, boxE={x:282,y:2313,w:972,h:1031};
bandChart(boxA,[[aU1,aL1],[aU2,aL2],[aU3,aL3]],aEdge,-2.10,2.10,bandTicksA,minus);
bandChart(boxC,[[cU1,cL1],[cU2,cL2],[cU3,cGap]],cEdge,-3.07,3.07,bandTicksC,minus);
// inset: solid part and spaced levels of each k column
(function(){
  const solid=[],columns=[];
  cGap.forEach((g,i)=>{
    for(const j of (i===61?[61]:[i,122-i])){
      const s=Math.max(g,cSolid[i]);
      solid.push({x:K(j),y:[g,s]},{x:K(j),y:[-s,-g]});
      if(s<.1)for(const sg of [1,-1])columns.push({type:'line',data:[{x:K(j),y:sg*s},{x:K(j),y:sg*.1}],borderColor:'#000',borderWidth:4.6,
        borderDash:[.01,cDot[i]],borderCapStyle:'round',pointRadius:0,tension:0,order:1});
    }});
  mk(boxI,{type:'bar',data:{datasets:[{type:'bar',data:solid,backgroundColor:'#000',barThickness:BAR,grouped:false,borderRadius:2.6,borderSkipped:false,inflateAmount:0,order:1},...columns,...edges(cEdge)]},
    options:{scales:{x:axis('bottom',-PI,PI,[],null,false),y:axis('left',-.1,.1,bandTicksInset,v=>minus(v.toFixed(1)))}}});
})();
const chE=bandChart(boxE,[[eU1,eL1],[ePieceHi,ePieceLo],[eU4,eL4]],eEdge,-4.19,4.19,bandTicksE,minus,axis('bottom',-PI,PI,[-PI,-PI/2,0,PI/2,PI],null,true));
const kLy=3420;
txt('−'+PIi,282,kLy,66,0);
txt('−'+fr(PIi,'2'),chE.px(-PI/2),kLy+6,56);
txt('0',chE.px(0),kLy,66);
txt(fr(PIi,'2'),chE.px(PI/2),kLy+6,56);
txt(PIi,1254,kLy,66,1);
txt('<i>k</i>',767,3520,70);

// ---------- Brillouin panels ----------
const rowTops=[148,1231,2314], colLeft=[1523,1905,2287];
const maps=[[E_IV_1,F_IV_1,E_IV_2,F_IV_2,E_IV_3,F_IV_3],[E_V_1,F_V_1,E_V_2,F_V_2,E_V_3,F_V_3],[E_VII_1,F_VII_1,E_VII_2,F_VII_2,E_VII_3,F_VII_3]];
const cherns=[chernIV,chernV,chernVII];
const cRight=[1884,2268,2648];
rowTops.forEach((top,r)=>{
  colLeft.forEach((left,c)=>{
    const last=r===2, b={x:left,y:top,w:c===2?381:382,h:1032};
    const ch=mk(b,{type:'scatter',data:{datasets:[fieldSet(maps[r][2*c],'y',colE),fieldSet(maps[r][2*c+1],'y2',colF)]},options:{scales:{
      x:axis('bottom',-.102,2.187,[0,X/2,X],null,last),
      y:axis('left',-2.827,3.727,[0,H,2*H,3*H],null,c===0),
      y2:axis('right',-.108,6.446,[0,H,2*H,3*H],null,c===2)}}},[heat]);
    txt(`<i>c</i><sub>${c+1}</sub> = ${cherns[r][c]}`,cRight[c],top+982,72,1,'','w');
    if(c===0)yLabels.forEach(([l,v])=>txt(l,1473,ch.py('y',v)+(v?16:2),v?56:66,1));
    if(c===2)yLabels.forEach(([l,v])=>txt(l,2718,ch.py('y2',v)+(v?16:2),v?56:66,0));
    if(last){
      txt('0',ch.px(0)+16,3418,66);
      txt(fr(PIi,'3'),ch.px(X/2),3428,54);
      txt(fr('2'+PIi,'3'),ch.px(X)-32,3428,54);
    }
  });
  const ky='<i>k</i><sub><i>y</i></sub>';
  txt(ky,1313,top+516,66,.5,'rotate(-90deg)');
  txt(ky,2880,top+516,66,.5,'rotate(-90deg)');
});
nTitles.forEach((n,i)=>txt(`<i>n</i> = ${n}`,[1710,2093,2475][i],82,84,.5,'','w'));
txt('<i>E</i>',2980,82,84);
txt('Im(<i>F</i><sub>12</sub>)',2973,2250,84);
txt('<i>k</i><sub><i>x</i></sub>',2093,3531,70);
[['(a)',86,218],['(c)',84,1257],['(e)',84,2338],['(b)',1310,148],['(d)',1310,1226],['(f)',1300,2308]].forEach(([t,x,y])=>txt(t,x,y,66));
[['IV',1388,918,92,81],['V',1383,2001,76,78],['VII',1388,3083,126,80]].forEach(([t,x,y,w,h])=>{const d=document.createElement('div');d.className='bd';d.textContent=t;
  d.style.left=(x-w/2)+'px';d.style.top=(y-h/2)+'px';d.style.width=w+'px';d.style.height=h+'px';document.body.appendChild(d);});

// ---------- colour bars ----------
function colourBar(b,min,max,ticks,fmt,colourAt){
  return mk(b,{type:'bar',data:{labels:['c'],datasets:[{data:[[min,max]],barPercentage:1,categoryPercentage:1,borderWidth:0,
    backgroundColor(ctx){const a=ctx.chart.chartArea;if(!a)return '#000';const gr=ctx.chart.ctx.createLinearGradient(0,a.bottom,0,a.top);
      for(let n=0;n<=40;n++){const c=colourAt(n/40);gr.addColorStop(n/40,`rgb(${c.map(Math.round).join(',')})`);}return gr;}}]},
    options:{scales:{x:{type:'category',display:false,afterFit:s=>{s.height=0;}},y:axis('right',min,max,ticks,fmt)}}});
}
colourBar({x:2940,y:148,w:79,h:1032},EMIN,0,energyTicks,minus,t=>ramp(plasmaStops,t));
const logMinor=[2,3,4,5,6,7,8,9];
const fTicks=[0];
[1,2,3].forEach(dec=>logMinor.forEach(n=>{const q=dec+Math.log10(n);fTicks.push(zOf(q),zOf(-q));}));
[1,2,3,4].forEach(q=>fTicks.push(zOf(q),zOf(-q)));
const cbF=colourBar({x:2940,y:2314,w:79,h:1030},-ZMAX,ZMAX,fTicks,null,t=>ramp(seismicStops,t));
decadeValues.forEach((q,i)=>txt(decadeLabels[i],q<0?3066:(q===0?3066:3062),cbF.py('y',zOf(q))+(q===0?2:6),66,0));
</script>
</body></html>
